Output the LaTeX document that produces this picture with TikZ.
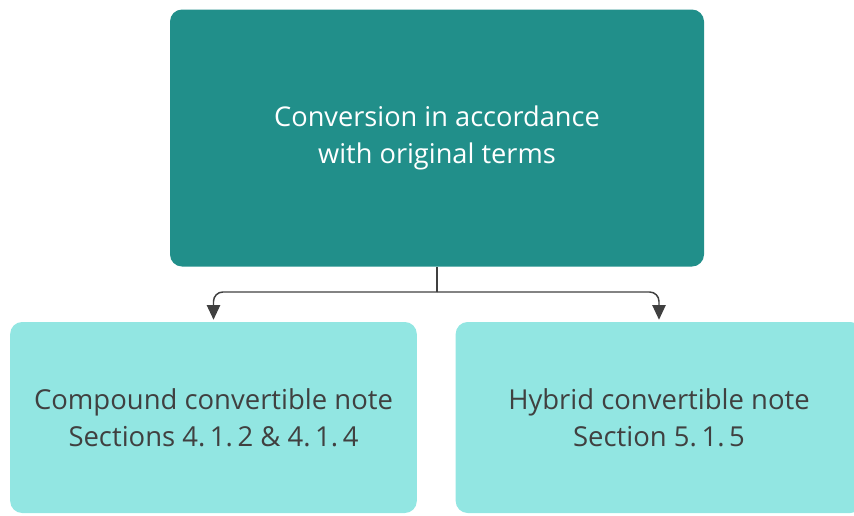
\documentclass[tikz,border=0pt]{standalone}
\usepackage{fontspec}
\setmainfont{Open Sans}
\usepackage{xcolor}
\usetikzlibrary{arrows.meta,positioning}

\definecolor{convdark}{HTML}{218F8A}
\definecolor{convlight}{HTML}{92E6E2}
\definecolor{convgray}{HTML}{404040}

\begin{document}
\begin{tikzpicture}[x=0.75pt,y=-0.75pt,
    topbox/.style={fill=convdark, text=white, rounded corners=9pt, align=center,
      minimum width=400.5pt, minimum height=192.75pt, font=\fontsize{20.4}{27.75}\selectfont},
    notebox/.style={fill=convlight, text=convgray, rounded corners=9pt, align=center,
      minimum width=305pt, minimum height=143.25pt, font=\fontsize{20.6}{27.75}\selectfont},
    link/.style={convgray, line width=1.1pt, rounded corners=7pt,
      -{Triangle[width=10pt,length=11pt]}, shorten >=1.5pt}]
  \useasboundingbox (0,0) rectangle (854,515);

  % Main box
  \node[topbox] (terms) at (437,138) {Conversion in accordance\\with original terms};

  % Note types
  \node[notebox] (compound) at (213.5,417.5) {Compound convertible note\\Sections 4.\,1.\,2 \& 4.\,1.\,4};
  \node[notebox] (hybrid) at (659,417.5) {Hybrid convertible note\\Section 5.\,1.\,5};

  % Links
  \coordinate (split) at (437,292);
  \draw[convgray, line width=1.1pt] (terms.south) -- (split);
  \draw[link] (split) -| (compound.north);
  \draw[link] (split) -| (hybrid.north);
\end{tikzpicture}
\end{document}
